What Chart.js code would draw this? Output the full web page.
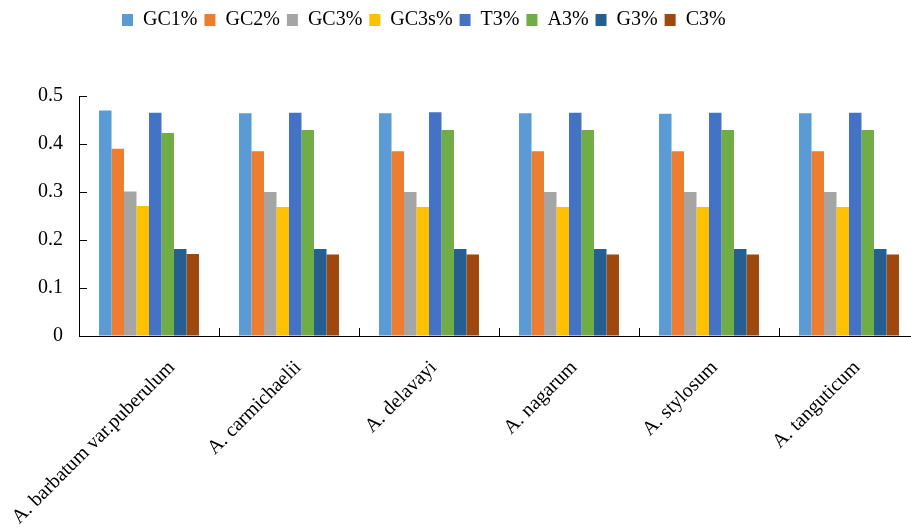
<!DOCTYPE html>
<html><head><meta charset="utf-8">
<script src="https://cdn.jsdelivr.net/npm/chart.js@4"></script>
<style>html,body{margin:0;padding:0;overflow:hidden;background:#fff}</style>
</head><body>
<canvas id="c" width="919" height="531" style="display:block;width:919px;height:531px"></canvas>
<script>
const categories = ['A. barbatum var.puberulum', 'A. carmichaelii', 'A. delavayi', 'A. nagarum', 'A. stylosum', 'A. tanguticum'];
const seriesNames = ['GC1%', 'GC2%', 'GC3%', 'GC3s%', 'T3%', 'A3%', 'G3%', 'C3%'];
const seriesColors = ['#5B9BD5', '#ED7D31', '#A5A5A5', '#FFC000', '#4472C4', '#70AD47', '#255E91', '#9E480E'];
const yTicks = [0, 0.1, 0.2, 0.3, 0.4, 0.5];

const GC1 = [0.470, 0.464, 0.464, 0.464, 0.463, 0.464];
const GC2 = [0.390, 0.385, 0.385, 0.385, 0.385, 0.385];
const GC3 = [0.301, 0.300, 0.300, 0.300, 0.300, 0.300];
const GC3s = [0.271, 0.269, 0.269, 0.269, 0.269, 0.269];
const T3 = [0.465, 0.465, 0.466, 0.465, 0.465, 0.465];
const A3 = [0.423, 0.429, 0.429, 0.429, 0.429, 0.429];
const G3 = [0.181, 0.181, 0.181, 0.181, 0.181, 0.181];
const C3 = [0.171, 0.170, 0.170, 0.170, 0.170, 0.170];
const seriesValues = [GC1, GC2, GC3, GC3s, T3, A3, G3, C3];

const FONT = '"Liberation Serif", "Times New Roman", serif';

// Places the legend like the original and mimics the way the original
// anchors its 45-degree category labels (longer labels sit further right).
const layoutTweaks = {
  id: 'layoutTweaks',
  afterInit(chart) {
    const lg = chart.legend;
    const f = lg.fit;
    lg.fit = function () { f.call(this); this.height = 96; };
  },
  afterLayout(chart) {
    const lg = chart.legend;
    lg.left = 115;
    lg.top = 3;
    const sx = chart.scales.x;
    if (!sx._tweaked) {
      const orig = sx._computeLabelItems;
      sx._computeLabelItems = function (ca) {
        const items = orig.call(this, ca);
        const ctx = chart.ctx;
        ctx.save();
        ctx.font = '20px ' + FONT;
        items.forEach(it => {
          const w = ctx.measureText(String(it.label)).width;
          it.options.translation[0] += 0.14 * (w - 115);
        });
        ctx.restore();
        return items;
      };
      sx._tweaked = true;
      sx._labelItems = null;
    }
  }
};

new Chart(document.getElementById('c'), {
  type: 'bar',
  data: {
    labels: categories,
    datasets: seriesNames.map((n, i) => ({
      label: n,
      data: seriesValues[i],
      backgroundColor: seriesColors[i],
      borderWidth: 0,
      barPercentage: 1,
      categoryPercentage: 0.714
    }))
  },
  plugins: [layoutTweaks],
  options: {
    responsive: false,
    animation: false,
    devicePixelRatio: 1,
    layout: { padding: 0 },
    plugins: {
      legend: {
        position: 'top',
        align: 'start',
        labels: { boxWidth: 11, boxHeight: 12, padding: 7, color: '#000', font: { family: FONT, size: 20 } }
      },
      tooltip: { enabled: false }
    },
    scales: {
      x: {
        offset: true,
        grid: { offset: true, drawOnChartArea: false, drawTicks: true, tickLength: -8, color: '#000', lineWidth: 1 },
        border: { color: '#000', width: 1 },
        ticks: { minRotation: 45, maxRotation: 45, autoSkip: false, padding: 28, labelOffset: 8, color: '#000', font: { family: FONT, size: 20 } },
        afterFit(s) { s.height = 195; s.paddingLeft = 0; s.paddingRight = 0; }
      },
      y: {
        min: 0, max: 0.5,
        afterBuildTicks(s) { s.ticks = yTicks.map(v => ({ value: v })); },
        grid: { drawOnChartArea: false, drawTicks: true, tickLength: -8, color: '#000', lineWidth: 1 },
        border: { color: '#000', width: 1 },
        ticks: { padding: 24, color: '#000', font: { family: FONT, size: 20 } },
        afterFit(s) { s.width = 79; s.paddingTop = 0; s.paddingBottom = 0; }
      }
    }
  }
});
</script>
</body></html>
